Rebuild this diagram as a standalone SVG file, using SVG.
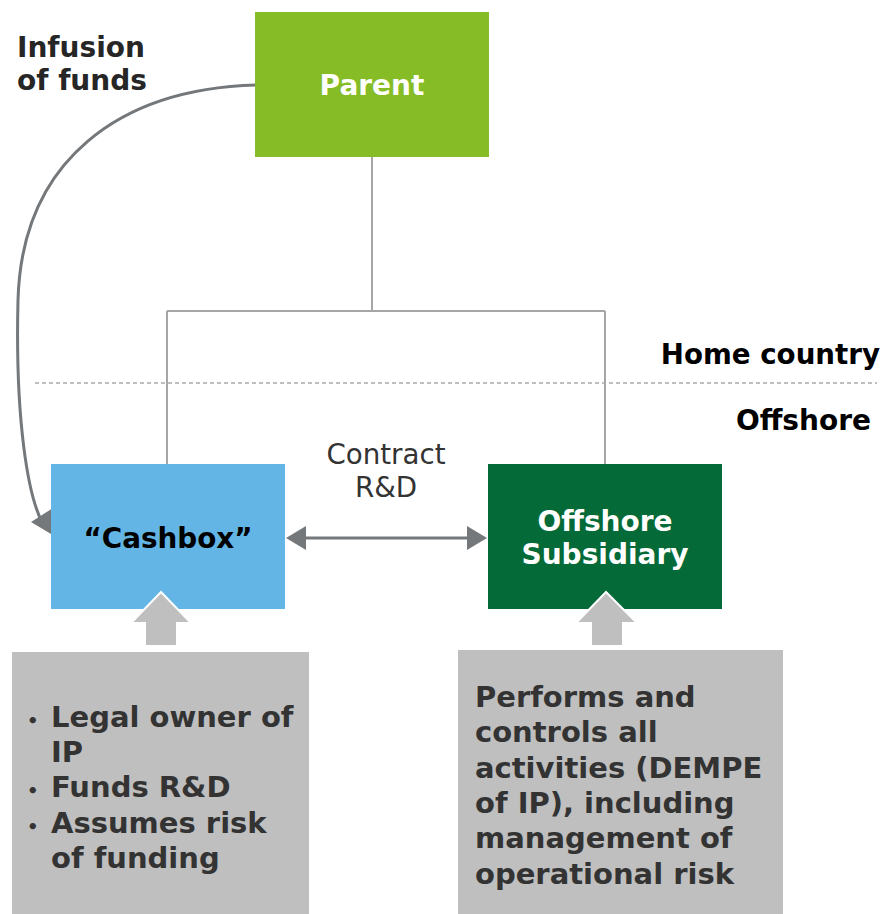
<svg xmlns="http://www.w3.org/2000/svg" width="885" height="914" viewBox="0 0 885 914">
<style>
.b{font-family:"DejaVu Sans","Verdana",sans-serif;font-weight:bold}
.r{font-family:"DejaVu Sans","Verdana",sans-serif}
.conn{fill:none;stroke:#a6a6a6;stroke-width:2}
.arr{fill:none;stroke:#75787b;stroke-width:3}
.gbox{fill:#bfbfbf}
.bt{font-size:29px;fill:#333333}
</style>
<rect width="885" height="914" fill="#ffffff"/>
<g id="connectors">
<path class="conn" d="M372 157 V311 M167 311 H605 M167 311 V464 M605 311 V464"/>
<line x1="35" y1="383" x2="877" y2="383" stroke="#aaaaaa" stroke-width="1.5" stroke-dasharray="4 3"/>
<path class="arr" d="M259 85 C120 88 22 160 18 300 C15 420 28 495 42 522"/>
<polygon points="56,537 31,522 53,508" fill="#75787b"/>
<line x1="305" y1="538" x2="468" y2="538" stroke="#75787b" stroke-width="3"/>
<polygon points="286,538 306,526 306,550" fill="#75787b"/>
<polygon points="487,538 467,526 467,550" fill="#75787b"/>
</g>
<g id="parent">
<rect x="255" y="12" width="234" height="145" fill="#86bc25"/>
<text x="372" y="95" class="b" font-size="28" fill="#ffffff" text-anchor="middle">Parent</text>
</g>
<g id="labels">
<text x="17" y="57" class="b" font-size="28" fill="#262626">Infusion</text>
<text x="17" y="90" class="b" font-size="28" fill="#262626">of funds</text>
<text x="880" y="364" class="b" font-size="27.7" fill="#000000" text-anchor="end">Home country</text>
<text x="871" y="430" class="b" font-size="28" fill="#000000" text-anchor="end">Offshore</text>
<text x="386" y="464" class="r" font-size="27.7" fill="#333333" text-anchor="middle">Contract</text>
<text x="386" y="497" class="r" font-size="27.7" fill="#333333" text-anchor="middle">R&amp;D</text>
</g>
<g id="cashbox">
<rect x="51" y="464" width="234" height="145" fill="#62b5e5"/>
<text x="168" y="548" class="b" font-size="27.8" fill="#000000" text-anchor="middle">“Cashbox”</text>
</g>
<g id="offshore-subsidiary">
<rect x="488" y="464" width="234" height="145" fill="#046a38"/>
<text x="605" y="531" class="b" font-size="28" fill="#ffffff" text-anchor="middle">Offshore</text>
<text x="605" y="564" class="b" font-size="28" fill="#ffffff" text-anchor="middle">Subsidiary</text>
</g>
<g id="arrow-cashbox">
<polygon points="161,592 131,623 145,623 145,646 177,646 177,623 191,623" class="gbox" stroke="#ffffff" stroke-width="2"/>
</g>
<g id="arrow-offshore">
<polygon points="606,592 576,623 591,623 591,646 623,646 623,623 637,623" class="gbox" stroke="#ffffff" stroke-width="2"/>
</g>
<g id="cashbox-notes">
<rect x="12" y="652" width="297" height="262" class="gbox"/>
<text class="b bt"><tspan x="27" y="727" font-size="18">•</tspan><tspan x="51" y="727">Legal owner of</tspan><tspan x="51" y="762">IP</tspan><tspan x="27" y="797" font-size="18">•</tspan><tspan x="51" y="797">Funds R&amp;D</tspan><tspan x="27" y="833" font-size="18">•</tspan><tspan x="51" y="833">Assumes risk</tspan><tspan x="51" y="868">of funding</tspan></text>
</g>
<g id="offshore-notes">
<rect x="458" y="650" width="325" height="264" class="gbox"/>
<text class="b bt"><tspan x="475" y="707">Performs and</tspan><tspan x="475" y="742">controls all</tspan><tspan x="475" y="778">activities (DEMPE</tspan><tspan x="475" y="813">of IP), including</tspan><tspan x="475" y="848">management of</tspan><tspan x="475" y="884">operational risk</tspan></text>
</g>
</svg>
